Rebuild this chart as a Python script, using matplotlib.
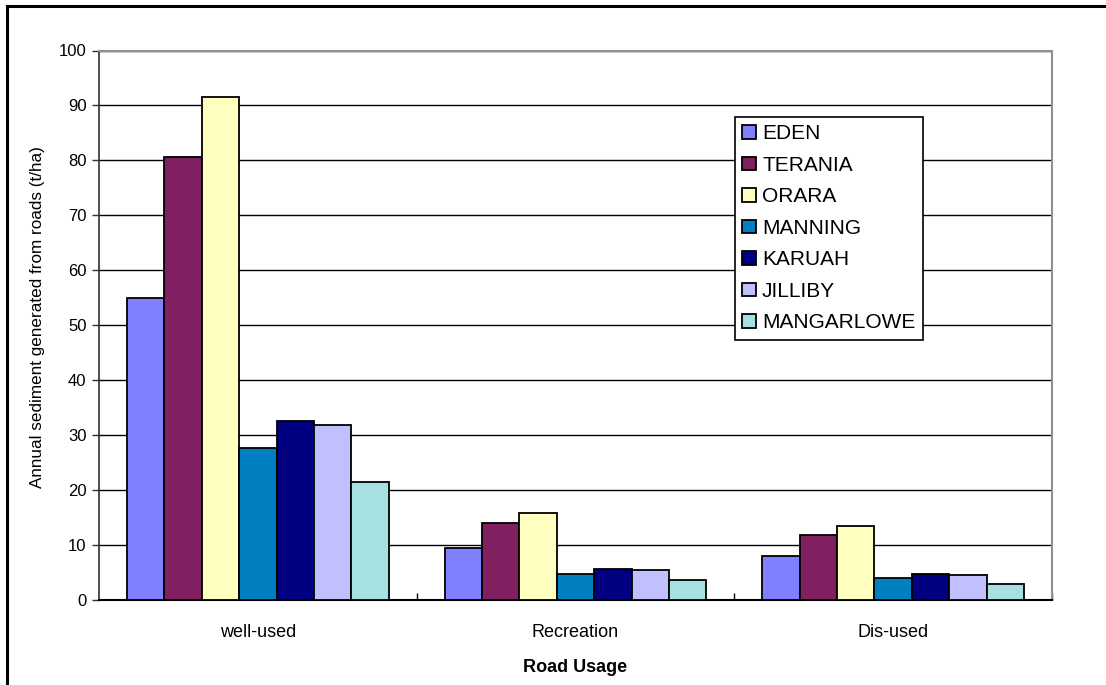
import matplotlib
matplotlib.use("Agg")
import matplotlib.pyplot as plt
from matplotlib.lines import Line2D
import numpy as np

plt.rcParams['font.family'] = ['Liberation Sans', 'DejaVu Sans']

categories = ["well-used", "Recreation", "Dis-used"]
sites = ["EDEN", "TERANIA", "ORARA", "MANNING", "KARUAH", "JILLIBY", "MANGARLOWE"]
eden = [54.9, 9.45, 8.0]
terania = [80.7, 14.05, 11.8]
orara = [91.6, 15.9, 13.4]
manning = [27.6, 4.7, 4.0]
karuah = [32.5, 5.6, 4.7]
jilliby = [31.8, 5.45, 4.6]
mangarlowe = [21.5, 3.7, 3.0]
colors = ["#8080FF", "#802060", "#FFFFC0", "#0080C0", "#000080", "#C0C0FF", "#A6E0E0"]
yticks = list(range(0, 101, 10))

series = [eden, terania, orara, manning, karuah, jilliby, mangarlowe]

W, H = 1106, 685
fig = plt.figure(figsize=(W / 100, H / 100), dpi=100)
ax = fig.add_axes([99 / W, 1 - 600 / H, (1052 - 99) / W, (600 - 50.5) / H])

n = len(series)
bw = 1.0 / (n + 1.5)
x = np.arange(len(categories))
for i, (vals, c) in enumerate(zip(series, colors)):
    offs = (i - (n - 1) / 2) * bw
    ax.bar(x + offs, vals, width=bw, color=c, edgecolor="black", linewidth=1.3,
           label=sites[i], zorder=3)

ax.set_xlim(-0.5, len(categories) - 0.5)
ax.set_ylim(0, 100)
ax.set_yticks(yticks)
ax.tick_params(axis="y", labelsize=12, length=5, width=1, color="#303030", pad=4)
ax.yaxis.grid(True, color="black", linewidth=1, zorder=0)
ax.set_axisbelow(True)

ax.set_xticks(x)
ax.set_xticklabels(categories, fontsize=13)
ax.tick_params(axis="x", length=0, pad=17)
ax.set_xticks([0.5, 1.5, 2.5], minor=True)
ax.tick_params(axis="x", which="minor", direction="in", length=5, width=1, color="black")

for s in ["top", "right"]:
    ax.spines[s].set_color("#909090")
    ax.spines[s].set_linewidth(1.5)
ax.spines["left"].set_color("#303030")
ax.spines["left"].set_linewidth(1.2)
ax.spines["bottom"].set_color("black")
ax.spines["bottom"].set_linewidth(1.5)

ax.set_ylabel("Annual sediment generated from roads (t/ha)", fontsize=12.3)
ax.yaxis.set_label_coords(-0.057, 0.515)
ax.set_xlabel("Road Usage", fontsize=13, fontweight="bold", labelpad=13)

leg = ax.legend(loc="upper left", bbox_to_anchor=((735 - 99) / 953, (600 - 117) / 549.5),
                fontsize=15, frameon=True, fancybox=False, edgecolor="black",
                framealpha=1, borderpad=0.35, labelspacing=0.6, handlelength=0.65,
                handleheight=0.65, handletextpad=0.3, borderaxespad=0)
leg.get_frame().set_linewidth(1.2)
for h in leg.legend_handles:
    h.set_linewidth(1.3)

# outer frame of the chart
fig.add_artist(Line2D([7 / W, 7 / W], [0, 1 - 6 / H], color="black", linewidth=2.2))
fig.add_artist(Line2D([7 / W, 1], [1 - 6 / H, 1 - 6 / H], color="black", linewidth=2.2))

fig.savefig("out.png", dpi=100)
